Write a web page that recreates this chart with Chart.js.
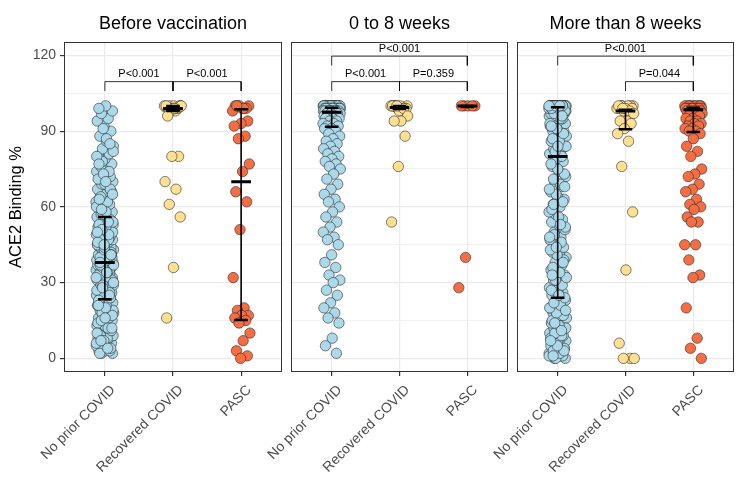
<!DOCTYPE html>
<html lang="en">
<head>
<meta charset="UTF-8">
<title>ACE2 Binding %</title>
<script src="https://cdn.jsdelivr.net/npm/chart.js"></script>
<style>
  body { margin: 0; background: #fff; }
  #wrap { position: relative; width: 744px; height: 495px; }
  #wrap canvas { position: absolute; left: 0; top: 0; }
</style>
</head>
<body>
<div id="wrap">
  <canvas id="c0" width="744" height="495"></canvas>
  <canvas id="c1" width="744" height="495"></canvas>
  <canvas id="c2" width="744" height="495"></canvas>
</div>
<script>
const groups = ['No prior COVID', 'Recovered COVID', 'PASC'];
const panelTitles = ['Before vaccination', '0 to 8 weeks', 'More than 8 weeks'];
const yTicks = [0, 15, 30, 45, 60, 75, 90, 105, 120];
const groupColors = ['#abd9e9', '#fee090', '#f46d43'];

// ACE2 binding % per participant
const beforeNoPrior = [2,2,3,3,4,4,5,5,6,6,7,8,8,9,9,10,11,11,12,13,13,14,15,15,16,17,17,18,19,19,20,20,21,21,22,22,23,
  23,24,24,25,25,26,26,27,27,28,28,29,29,30,30,31,31,31,32,32,33,33,34,34,35,35,35,36,36,37,37,38,38,24,27,30,33,
  39,39,40,40,41,41,42,42,43,43,44,44,45,45,46,46,47,47,48,48,49,49,50,50,51,51,52,52,53,53,54,54,55,55,56,56,57,
  58,59,60,61,61,62,63,64,65,66,67,68,69,70,71,72,72,73,74,75,76,77,79,80,81,83,84,86,88,90,92,94,95,97,98,100,99,
  3,5,6,8,9,11,13,14,16,18,19,21,22,24,25,27,28,29,31,32,33,35,36,37,39,40,42,43,45,47,48,50,52,53,55,57,
  60,62,64,66,69,71,74,78,82,87,2,4,7,10,12,15,17,20,23,26,29,32,34,37,41,44,46,49,51,54,58,63,67,73,80,
  4,7,12,16,21,25,28,30,34,38,41,45,50,54,59,65,70,77,85,91];
const beforeRecovered = [100,100,100,99,99,99,100,98,99,100,99,100,99,98,100,99,96,80,80,70,67,61,56,36,16];
const beforePasc = [100,100,99,100,99,100,98,99,100,94,93,92,88,87,77,74,66,62,51,32,20,19,17,17,16,15,14,10,7,3,1,0];

const earlyNoPrior = [100,100,100,100,100,100,100,100,100,100,100,100,100,100,100,100,100,100,100,100,
  99,99,99,99,99,99,99,99,99,99,99,99,99,99,99,99,99,99,
  98,98,98,98,98,98,98,98,98,98,97,97,97,97,97,96,96,96,95,95,95,94,94,93,93,92,92,91,91,90,
  89,88,87,86,85,84,83,82,81,80,79,78,77,76,75,73,71,69,67,65,63,62,60,58,56,54,52,50,48,47,45,
  41,38,36,33,31,30,27,25,22,20,18,16,14,8,5,2];
const earlyRecovered = [100,100,100,100,99,99,100,99,100,99,98,100,99,100,96,94,94,88,76,54];
const earlyPasc = [100,100,100,100,100,40,28];

const lateNoPrior = [0,0,1,1,1,2,2,3,3,4,4,5,5,6,7,7,8,9,9,10,11,12,12,13,14,15,16,16,17,18,19,19,20,21,22,23,23,
  25,26,27,28,30,31,33,34,35,37,38,40,41,42,44,45,47,48,50,51,53,54,55,57,58,60,61,63,64,66,68,70,72,74,76,78,79,
  81,82,83,84,85,86,87,88,88,89,90,90,91,92,92,93,93,94,94,95,95,96,96,96,97,97,97,98,98,98,98,
  99,99,99,99,99,99,99,99,99,99,99,99,99,99,
  100,100,100,100,100,100,100,100,100,100,100,100,100,100,100,100,100,100,100,100,100,100,100,100,100,100,100,100,100,100,
  0,1,2,3,4,6,8,9,10,12,13,15,17,18,20,21,22,24,26,27,29,31,32,34,36,39,41,43,46,49,52,56,59,62,65,67,69,71,73,75,77,
  80,82,84,86,87,89,91,93,95,97,98,99,99,100,100,100,100,1,3,5,7,11,14,19,25,33,38,44,48,53,61,68,84,92,96];
const lateRecovered = [100,100,99,99,100,98,99,100,100,99,99,100,98,99,97,94,94,93,91,89,86,76,58,35,6,0,0,0];
const latePasc = [100,100,100,100,100,100,100,100,100,100,99,99,99,99,99,99,99,99,99,99,98,98,98,98,98,97,97,97,
  96,96,96,95,95,94,94,93,93,92,92,91,91,90,90,89,
  87,84,82,80,75,73,72,69,67,66,63,61,60,59,56,54,54,45,45,39,33,32,20,8,4,0];

const panelValues = [
  [beforeNoPrior, beforeRecovered, beforePasc],
  [earlyNoPrior, earlyRecovered, earlyPasc],
  [lateNoPrior, lateRecovered, latePasc]
];

// median and interquartile range drawn as the black bars
const medians = [[38, 99, 70], [97.5, 99.4, 100], [80, 98, 98.5]];
const q1s = [[23.4, 98, 15.2], [91.7, 98.8, 99.6], [24, 90.7, 89.7]];
const q3s = [[56, 100, 98.7], [99.3, 100, 100], [99.5, 98.5, 99.3]];

// significance brackets
const pLabels = [['P<0.001', 'P<0.001'], ['P<0.001', 'P=0.359', 'P<0.001'], ['P=0.044', 'P<0.001']];
const pFrom = [[1, 2], [1, 2, 1], [2, 1]];
const pTo = [[2, 3], [2, 3, 3], [3, 3]];
const pLevel = [[109.6, 109.6], [109.6, 109.6, 119.7], [109.6, 119.7]];

const panelLeft = [64, 291, 517];
const panelRight = [282, 508, 734];
const FONT = '"Liberation Sans", Arial, sans-serif';

Chart.defaults.font.family = FONT;
Chart.defaults.color = '#4d4d4d';

function jitter(i) {
  return (((i * 0.618034 + 0.31) % 1) - 0.5) * 0.26;
}

function segments(list) {
  const out = [];
  list.forEach(s => {
    out.push({ x: s[0], y: s[1] }, { x: s[2], y: s[3] }, { x: s[2], y: null });
  });
  return out;
}

function decor(p) {
  return {
    id: 'decor' + p,
    afterDatasetsDraw(chart) {
      const { ctx, chartArea: a, scales: { x, y } } = chart;
      ctx.save();
      ctx.strokeStyle = '#333';
      ctx.lineWidth = 1;
      ctx.strokeRect(a.left + 0.5, a.top + 0.5, a.right - a.left - 1, a.bottom - a.top - 1);
      ctx.fillStyle = '#000';
      ctx.textAlign = 'center';
      ctx.textBaseline = 'middle';
      ctx.font = '18px ' + FONT;
      ctx.fillText(panelTitles[p], (a.left + a.right) / 2, 24);
      ctx.font = '11px ' + FONT;
      pLabels[p].forEach((t, k) => {
        ctx.fillText(t, x.getPixelForValue((pFrom[p][k] + pTo[p][k]) / 2), y.getPixelForValue(pLevel[p][k] + 2.9));
      });
      ctx.restore();
    }
  };
}

function makePanel(p) {
  const datasets = [];

  const vertical = [], caps = [], mids = [];
  groups.forEach((g, i) => {
    const c = i + 1;
    vertical.push([c, q1s[p][i], c, q3s[p][i]]);
    caps.push([c - 0.1, q1s[p][i], c + 0.1, q1s[p][i]]);
    caps.push([c - 0.1, q3s[p][i], c + 0.1, q3s[p][i]]);
    mids.push([c - 0.145, medians[p][i], c + 0.145, medians[p][i]]);
  });
  const brackets = [];
  pLabels[p].forEach((t, k) => {
    const lv = pLevel[p][k];
    brackets.push([pFrom[p][k], lv - 3.7, pFrom[p][k], lv]);
    brackets.push([pFrom[p][k], lv, pTo[p][k], lv]);
    brackets.push([pTo[p][k], lv, pTo[p][k], lv - 3.7]);
  });
  const lineSet = (data, w) => ({
    data: segments(data), showLine: true, borderColor: '#000', borderWidth: w,
    pointRadius: 0, spanGaps: false, order: 0
  });
  datasets.push(lineSet(mids, 3));
  datasets.push(lineSet(caps, 2.5));
  datasets.push(lineSet(vertical, 1.6));
  datasets.push(lineSet(brackets, 0.8));

  panelValues[p].forEach((vals, i) => {
    datasets.push({
      data: vals.map((v, k) => ({ x: i + 1 + jitter(k), y: v })),
      backgroundColor: groupColors[i],
      borderColor: '#2b2b2b',
      borderWidth: 0.6,
      pointRadius: 5.2,
      order: 1
    });
  });

  return new Chart(document.getElementById('c' + p), {
    type: 'scatter',
    data: { datasets },
    options: {
      responsive: false,
      animation: false,
      events: [],
      layout: { padding: { left: p === 0 ? 0 : panelLeft[p], right: 744 - panelRight[p], top: 42, bottom: 0 } },
      plugins: { legend: { display: false }, tooltip: { enabled: false } },
      scales: {
        x: {
          type: 'linear', min: 0.4, max: 3.6,
          afterBuildTicks: s => { s.ticks = groups.map((g, i) => ({ value: i + 1 })); },
          afterFit: s => { s.height = 123; s.paddingLeft = 0; s.paddingRight = 0; },
          ticks: {
            autoSkip: false, minRotation: 45, maxRotation: 45, padding: 6, labelOffset: 8,
            color: '#4d4d4d', font: { size: 14 },
            callback: v => groups[v - 1]
          },
          grid: { color: '#ebebeb', lineWidth: 1.2, tickLength: 4, tickColor: '#333' },
          border: { display: false }
        },
        y: {
          min: -5.4, max: 125.3,
          afterBuildTicks: s => { s.ticks = yTicks.map(v => ({ value: v })); },
          afterFit: s => { s.width = p === 0 ? panelLeft[0] : 0; },
          ticks: {
            display: p === 0, padding: 4, color: '#4d4d4d', font: { size: 14 },
            callback: v => (v % 30 === 0 ? v : '')
          },
          grid: {
            color: ctx => (ctx.tick && ctx.tick.value % 30 === 0 ? '#ebebeb' : '#f2f2f2'),
            lineWidth: 1.2,
            drawTicks: p === 0, tickLength: 4,
            tickColor: ctx => (ctx.tick && ctx.tick.value % 30 === 0 ? '#333' : 'rgba(0,0,0,0)')
          },
          title: {
            display: p === 0, text: 'ACE2 Binding %', color: '#000',
            font: { size: 16.5 }, padding: { top: 7, bottom: 0 }
          },
          border: { display: false }
        }
      }
    },
    plugins: [decor(p)]
  });
}

[0, 1, 2].forEach(makePanel);
</script>
</body>
</html>
